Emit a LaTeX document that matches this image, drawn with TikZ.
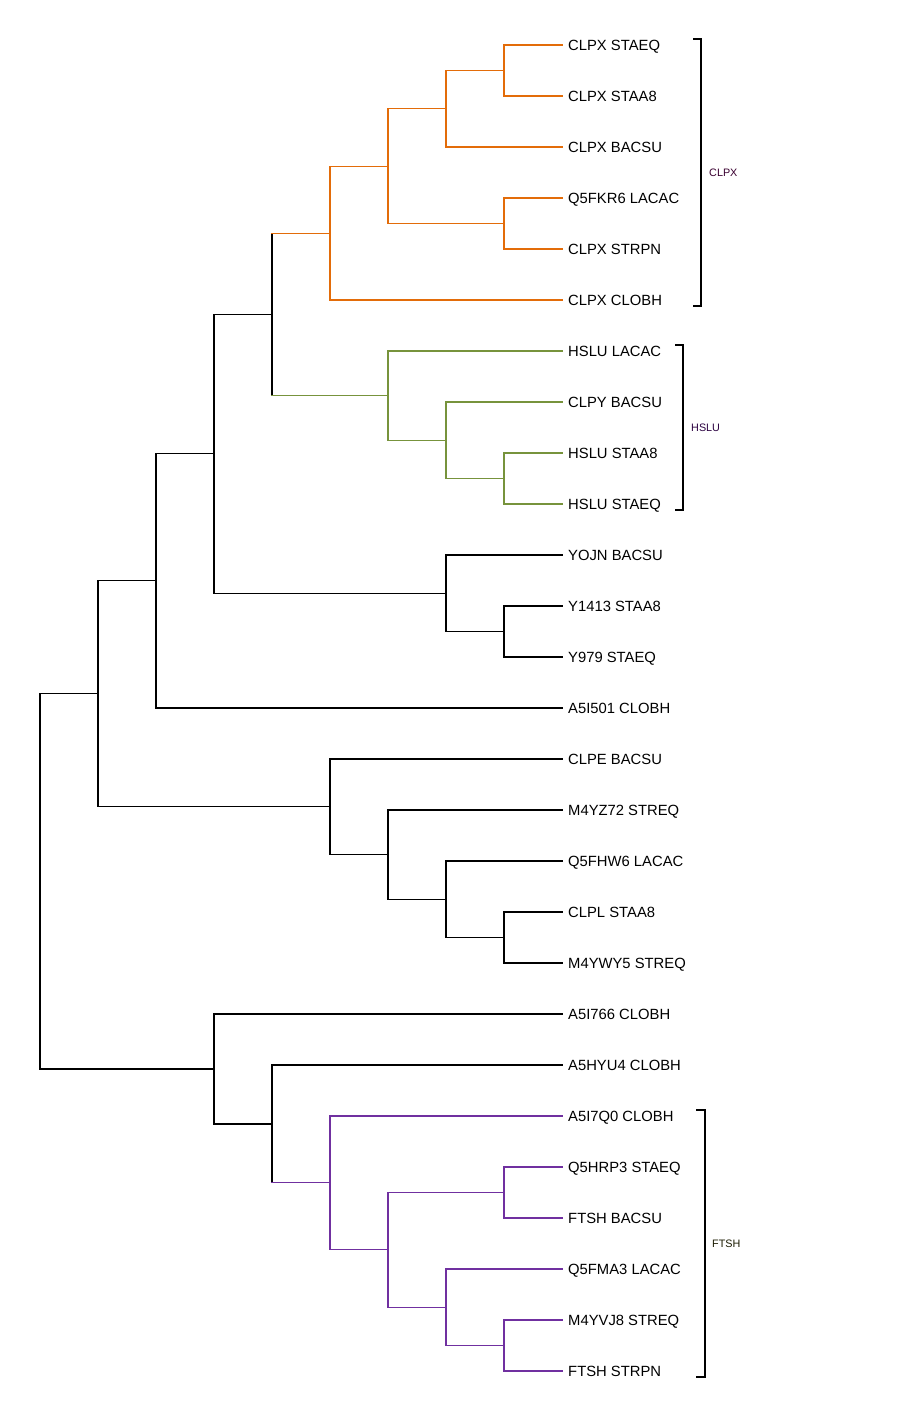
\documentclass[tikz,border=0pt]{standalone}
\usepackage{fontspec}
\setmainfont{Liberation Sans}
\definecolor{orng}{HTML}{E36C09}
\definecolor{grn}{HTML}{77933C}
\definecolor{prpl}{HTML}{7030A0}
\definecolor{labA}{HTML}{3A0030}
\definecolor{labB}{HTML}{2A0040}
\definecolor{labC}{HTML}{1A1A00}
\begin{document}
\begin{tikzpicture}[x=1pt,y=-1pt,
  br/.style={line width=1.05pt,black,line cap=rect},
  leaf/.style={anchor=west,inner xsep=6pt,inner ysep=0pt,text height=10.5pt,text depth=0pt,font=\fontsize{14.8}{16}\selectfont},
  clab/.style={anchor=west,inner sep=0pt,text height=7.9pt,text depth=0pt,font=\fontsize{10.8}{12}\selectfont},
  bk/.style={line width=1.1pt,black,line cap=rect}]
\useasboundingbox (0,0) rectangle (920,1404);
% leaves
\foreach \i/\t in {1/CLPX STAEQ,2/CLPX STAA8,3/CLPX BACSU,4/Q5FKR6 LACAC,5/CLPX STRPN,6/CLPX CLOBH,7/HSLU LACAC,8/CLPY BACSU,9/HSLU STAA8,10/HSLU STAEQ,11/YOJN BACSU,12/Y1413 STAA8,13/Y979 STAEQ,14/A5I501 CLOBH,15/CLPE BACSU,16/M4YZ72 STREQ,17/Q5FHW6 LACAC,18/CLPL STAA8,19/M4YWY5 STREQ,20/A5I766 CLOBH,21/A5HYU4 CLOBH,22/A5I7Q0 CLOBH,23/Q5HRP3 STAEQ,24/FTSH BACSU,25/Q5FMA3 LACAC,26/M4YVJ8 STREQ,27/FTSH STRPN}
  \node[leaf] (l\i) at (562,{45+51*(\i-1)}) {\t};
% internal nodes
\coordinate (n1) at (504,70.5);
\coordinate (n2) at (446,108.75);
\coordinate (n3) at (504,223.5);
\coordinate (n4) at (388,166.125);
\coordinate (n5) at (330,233.06);
\coordinate (h1) at (504,478.5);
\coordinate (h2) at (446,440.25);
\coordinate (h3) at (388,395.625);
\coordinate (d) at (272,314.34);
\coordinate (y1) at (504,631.5);
\coordinate (y2) at (446,593.25);
\coordinate (c) at (214,453.8);
\coordinate (b) at (156,580.9);
\coordinate (e1) at (504,937.5);
\coordinate (e2) at (446,899.25);
\coordinate (e3) at (388,854.6);
\coordinate (e4) at (330,806.8);
\coordinate (a) at (98,693.85);
\coordinate (f1) at (504,1192.5);
\coordinate (f2) at (504,1345.5);
\coordinate (f3) at (446,1307.25);
\coordinate (f4) at (388,1249.9);
\coordinate (f5) at (330,1182.9);
\coordinate (f6) at (272,1124);
\coordinate (f7) at (214,1069);
\coordinate (root) at (40,881.4);
% vertical bars: parent/first child/last child/colour
\foreach \p/\u/\v/\col in {n1/l1.west/l2.west/orng,n2/n1/l3.west/orng,n3/l4.west/l5.west/orng,n4/n2/n3/orng,n5/n4/l6.west/orng,
  h1/l9.west/l10.west/grn,h2/l8.west/h1/grn,h3/l7.west/h2/grn,
  d/n5/h3/black,y1/l12.west/l13.west/black,y2/l11.west/y1/black,c/d/y2/black,b/c/l14.west/black,
  e1/l18.west/l19.west/black,e2/l17.west/e1/black,e3/l16.west/e2/black,e4/l15.west/e3/black,a/b/e4/black,
  f1/l23.west/l24.west/prpl,f2/l26.west/l27.west/prpl,f3/l25.west/f2/prpl,f4/f1/f3/prpl,f5/l22.west/f4/prpl,
  f6/l21.west/f5/black,f7/l20.west/f6/black,root/a/f7/black}
  \draw[br,draw=\col] (\p |- \u) -- (\p |- \v);
% horizontal edges: parent/child/colour
\foreach \p/\ch/\col in {n1/l1.west/orng,n1/l2.west/orng,n2/n1/orng,n2/l3.west/orng,n3/l4.west/orng,n3/l5.west/orng,
  n4/n2/orng,n4/n3/orng,n5/n4/orng,n5/l6.west/orng,
  h1/l9.west/grn,h1/l10.west/grn,h2/l8.west/grn,h2/h1/grn,h3/l7.west/grn,h3/h2/grn,
  d/n5/orng,d/h3/grn,y1/l12.west/black,y1/l13.west/black,y2/l11.west/black,y2/y1/black,c/d/black,c/y2/black,
  b/c/black,b/l14.west/black,e1/l18.west/black,e1/l19.west/black,e2/l17.west/black,e2/e1/black,
  e3/l16.west/black,e3/e2/black,e4/l15.west/black,e4/e3/black,a/b/black,a/e4/black,
  f1/l23.west/prpl,f1/l24.west/prpl,f2/l26.west/prpl,f2/l27.west/prpl,f3/l25.west/prpl,f3/f2/prpl,
  f4/f1/prpl,f4/f3/prpl,f5/l22.west/prpl,f5/f4/prpl,f6/l21.west/black,f6/f5/prpl,
  f7/l20.west/black,f7/f6/black,root/a/black,root/f7/black}
  \draw[br,draw=\col] (\p |- \ch) -- (\ch);
% clade brackets
\draw[bk] (694,39) -- (701,39) -- (701,306) -- (694,306);
\node[clab,text=labA] (tA) at (709,172.5) {CLPX};
\draw[bk] (676,345) -- (683,345) -- (683,510) -- (676,510);
\node[clab,text=labB] (tB) at (691,427.5) {HSLU};
\draw[bk] (697,1110) -- (705,1110) -- (705,1377) -- (697,1377);
\node[clab,text=labC] (tC) at (712,1243.5) {FTSH};
\end{tikzpicture}
\end{document}
